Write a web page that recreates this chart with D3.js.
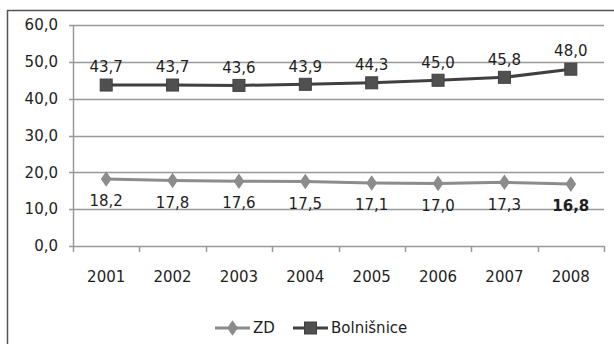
<!DOCTYPE html>
<html>
<head>
<meta charset="utf-8">
<script src="https://cdn.jsdelivr.net/npm/d3@7"></script>
<style>
  html, body { margin: 0; padding: 0; background: #fff; }
  svg { display: block; }
  text { font-family: "DejaVu Sans", sans-serif; fill: #1e1e1e; }
</style>
</head>
<body>
<svg id="chart" width="614" height="344"></svg>
<script>
const years = ["2001", "2002", "2003", "2004", "2005", "2006", "2007", "2008"];
const zdValues = [18.2, 17.8, 17.6, 17.5, 17.1, 17.0, 17.3, 16.8];
const bolnValues = [43.7, 43.7, 43.6, 43.9, 44.3, 45.0, 45.8, 48.0];
const yTicks = [0, 10, 20, 30, 40, 50, 60];
const seriesNames = ["ZD", "Bolnišnice"];

const svg = d3.select("#chart");
const fmt = v => d3.format(".1f")(v).replace(".", ",");
const fontSize = 15;

// outer frame
svg.append("rect")
  .attr("x", 7.5).attr("y", 10.5)
  .attr("width", 640).attr("height", 360)
  .attr("fill", "none").attr("stroke", "#555").attr("stroke-width", 1.5);

const plotLeft = 73, plotRight = 604, plotTop = 25, plotBottom = 246;
const x = d3.scaleBand().domain(years).range([plotLeft, plotRight]);
const y = d3.scaleLinear().domain([0, 60]).range([plotBottom, plotTop]);

// horizontal gridlines
svg.append("g").selectAll("line").data(yTicks).join("line")
  .attr("x1", plotLeft - 4).attr("x2", plotRight)
  .attr("y1", d => Math.round(y(d)) + 0.5).attr("y2", d => Math.round(y(d)) + 0.5)
  .attr("stroke", "#999").attr("stroke-width", 1.5);

// y axis line
svg.append("line")
  .attr("x1", plotLeft + 0.5).attr("x2", plotLeft + 0.5)
  .attr("y1", plotTop).attr("y2", plotBottom + 0.5)
  .attr("stroke", "#999").attr("stroke-width", 1.5);

// y tick labels
svg.append("g").selectAll("text").data(yTicks).join("text")
  .attr("x", plotLeft - 15).attr("y", d => y(d))
  .attr("dy", "0.35em").attr("text-anchor", "end")
  .attr("font-size", fontSize)
  .text(d => fmt(d));

// x axis ticks between categories
const boundaries = years.map(d => x(d)).concat([plotRight]);
svg.append("g").selectAll("line").data(boundaries).join("line")
  .attr("x1", d => Math.round(d) + 0.5).attr("x2", d => Math.round(d) + 0.5)
  .attr("y1", plotBottom).attr("y2", plotBottom + 6)
  .attr("stroke", "#999").attr("stroke-width", 1.5);

// x labels
svg.append("g").selectAll("text").data(years).join("text")
  .attr("x", d => x(d) + x.bandwidth() / 2).attr("y", 277)
  .attr("dy", "0.35em").attr("text-anchor", "middle")
  .attr("font-size", fontSize)
  .text(d => d);

const cx = d => x(d) + x.bandwidth() / 2;
const line = d3.line().x((d, i) => cx(years[i])).y(d => y(d));

// ZD series
svg.append("path").datum(zdValues)
  .attr("d", line).attr("fill", "none")
  .attr("stroke", "#8c8c8c").attr("stroke-width", 3);
const diamond = d3.symbol().type(d3.symbolDiamond).size(70);
svg.append("g").selectAll("path").data(zdValues).join("path")
  .attr("d", diamond)
  .attr("transform", (d, i) => `translate(${cx(years[i])},${y(d)}) scale(1.2,1)`)
  .attr("fill", "#8c8c8c");

// Bolnišnice series
svg.append("path").datum(bolnValues)
  .attr("d", line).attr("fill", "none")
  .attr("stroke", "#404040").attr("stroke-width", 3);
svg.append("g").selectAll("rect").data(bolnValues).join("rect")
  .attr("x", (d, i) => cx(years[i]) - 6).attr("y", d => y(d) - 6)
  .attr("width", 12).attr("height", 12)
  .attr("fill", "#505050").attr("stroke", "#404040");

// value labels
svg.append("g").selectAll("text").data(bolnValues).join("text")
  .attr("x", (d, i) => cx(years[i])).attr("y", d => y(d) - 18)
  .attr("dy", "0.35em").attr("text-anchor", "middle")
  .attr("font-size", fontSize)
  .text(d => fmt(d));
svg.append("g").selectAll("text").data(zdValues).join("text")
  .attr("x", (d, i) => cx(years[i])).attr("y", d => y(d) + 22)
  .attr("dy", "0.35em").attr("text-anchor", "middle")
  .attr("font-size", fontSize)
  .attr("font-weight", (d, i) => i === zdValues.length - 1 ? "bold" : "normal")
  .text(d => fmt(d));

// legend
const legend = svg.append("g").attr("transform", "translate(0,328)");
const lx = [215, 293];
legend.append("line").attr("x1", lx[0]).attr("x2", lx[0] + 35).attr("y1", 0).attr("y2", 0)
  .attr("stroke", "#8c8c8c").attr("stroke-width", 3);
legend.append("path").attr("d", diamond)
  .attr("transform", `translate(${lx[0] + 17.5},0) scale(1.2,1)`).attr("fill", "#8c8c8c");
legend.append("text").attr("x", lx[0] + 38).attr("y", 0).attr("dy", "0.35em")
  .attr("font-size", fontSize).text(seriesNames[0]);
legend.append("line").attr("x1", lx[1]).attr("x2", lx[1] + 35).attr("y1", 0).attr("y2", 0)
  .attr("stroke", "#404040").attr("stroke-width", 3);
legend.append("rect").attr("x", lx[1] + 11.5).attr("y", -6).attr("width", 12).attr("height", 12)
  .attr("fill", "#505050").attr("stroke", "#404040");
legend.append("text").attr("x", lx[1] + 38).attr("y", 0).attr("dy", "0.35em")
  .attr("font-size", fontSize).text(seriesNames[1]);
</script>
</body>
</html>
